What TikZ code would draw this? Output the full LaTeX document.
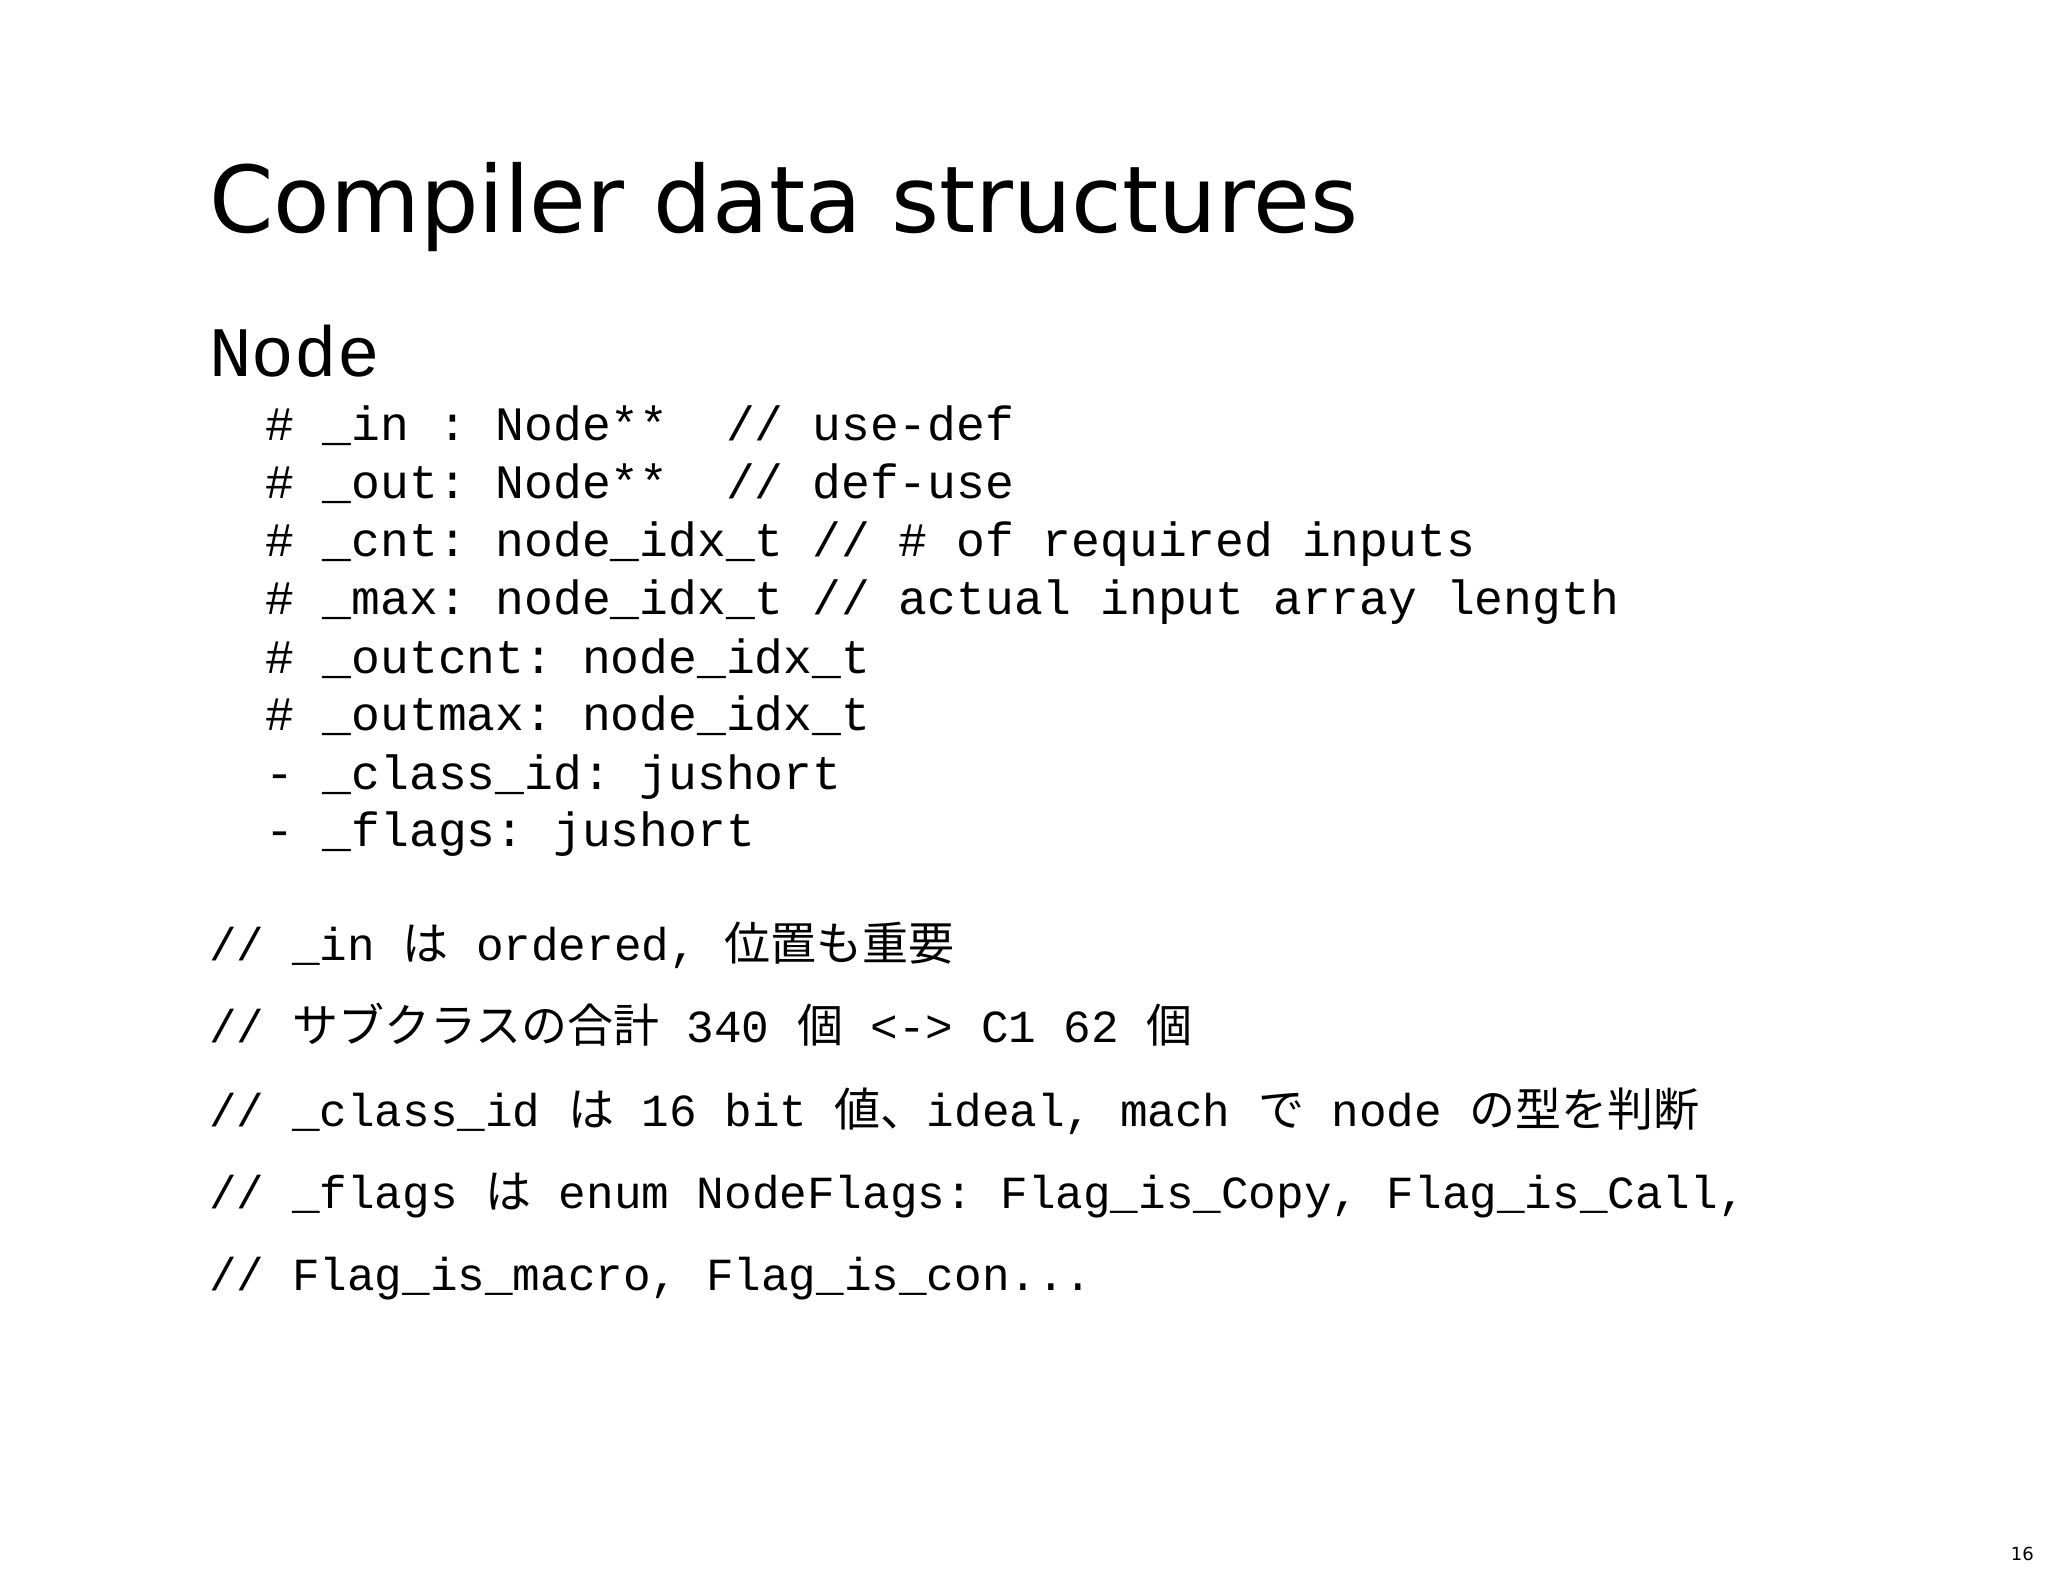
\documentclass[tikz,border=0pt]{standalone}
\usepackage{fontspec}
\setmainfont{DejaVu Sans}
\setmonofont{Liberation Mono}
\newfontfamily\jp{Noto Sans CJK JP}
\tikzset{
  codeln/.style={anchor=base west, inner sep=0pt, font=\fontsize{48}{48}\selectfont\ttfamily},
  cmtln/.style={anchor=base west, inner sep=0pt, font=\fontsize{46}{46}\selectfont\ttfamily}
}
\begin{document}
\begin{tikzpicture}[x=1pt,y=-1pt]
\useasboundingbox (0,0) rectangle (2048,1576);
\node[anchor=base west,inner sep=0pt] (title) at (209,232) {\resizebox{1149pt}{!}{\fontsize{100}{100}\selectfont Compiler data structures}};
\node[anchor=base west,inner sep=0pt,font=\fontsize{71}{71}\selectfont\ttfamily] (hd) at (209,376) {Node};
\node[codeln] (l1) at (265,440) {\# \_in : Node**~~// use-def};
\node[codeln] (l2) at (265,498) {\# \_out: Node**~~// def-use};
\node[codeln] (l3) at (265,556) {\# \_cnt: node\_idx\_t // \# of required inputs};
\node[codeln] (l4) at (265,614) {\# \_max: node\_idx\_t // actual input array length};
\node[codeln] (l5) at (265,673) {\# \_outcnt: node\_idx\_t};
\node[codeln] (l6) at (265,730) {\# \_outmax: node\_idx\_t};
\node[codeln] (l7) at (265,789) {- \_class\_id: jushort};
\node[codeln] (l8) at (265,846) {- \_flags: jushort};
\node[cmtln] (c1) at (209,960) {// \_in {\jp は} ordered, {\jp 位置も重要}};
\node[cmtln] (c2) at (209,1042) {// {\jp サブクラスの合計} 340 {\jp 個} <-> C1 62 {\jp 個}};
\node[cmtln] (c3) at (209,1126) {// \_class\_id {\jp は} 16 bit {\jp 値、}ideal, mach {\jp で} node {\jp の型を判断}};
\node[cmtln] (c4) at (209,1208) {// \_flags {\jp は} enum NodeFlags: Flag\_is\_Copy, Flag\_is\_Call,};
\node[cmtln] (c5) at (209,1290) {// Flag\_is\_macro, Flag\_is\_con...};
\node[anchor=base east,inner sep=0pt,font=\fontsize{18}{18}\selectfont] (pg) at (2034,1560) {16};
\end{tikzpicture}
\end{document}
